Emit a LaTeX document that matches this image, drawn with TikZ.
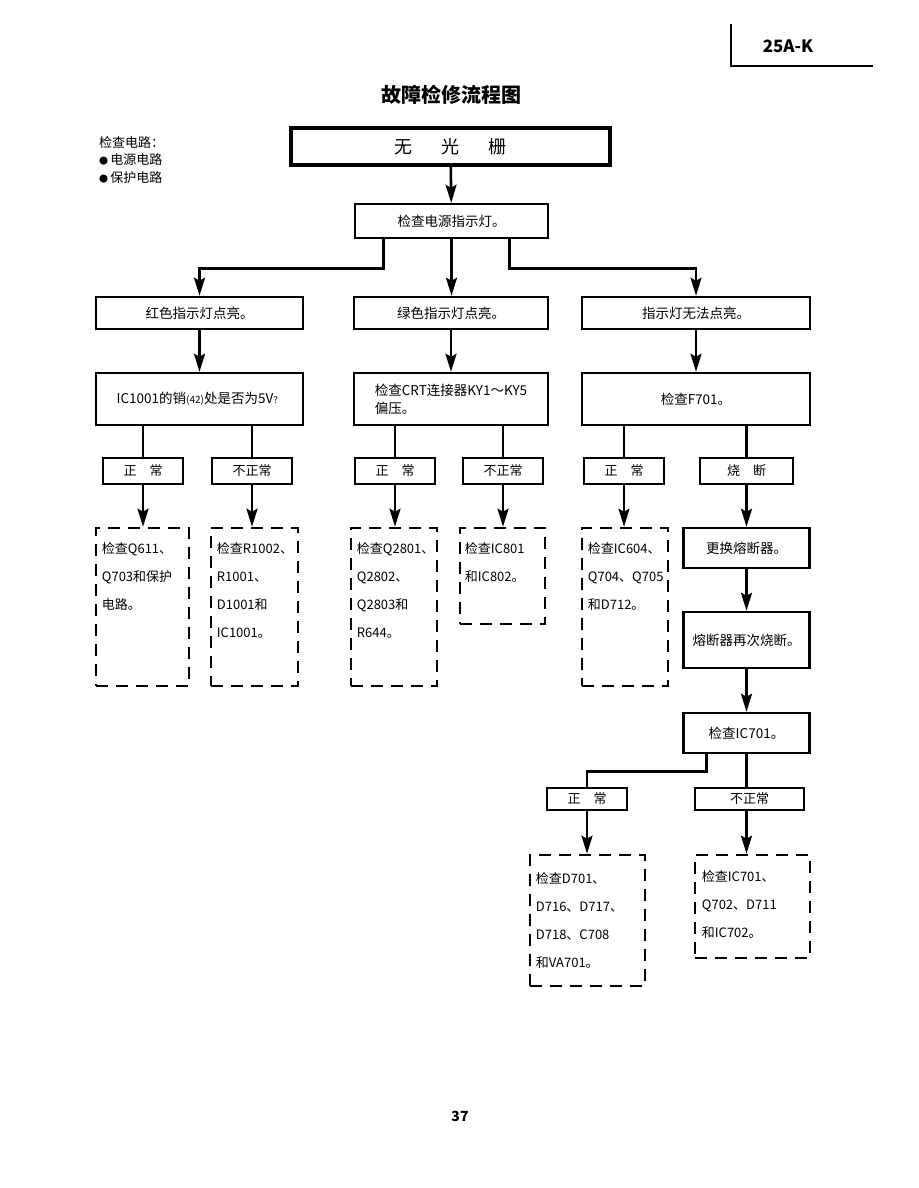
\documentclass[tikz,border=0pt]{standalone}
\usepackage{fontspec}
\setmainfont{Noto Sans CJK SC}
\usetikzlibrary{arrows.meta, positioning, calc}

\tikzset{
  box/.style={draw, line width=2.5pt, inner sep=2pt, font=\fontsize{13.5}{18}\selectfont},
  tag/.style={draw, line width=1.3pt, minimum width=80pt, minimum height=26pt, inner sep=0pt, font=\fontsize{13}{15}\selectfont},
  dashbox/.style={draw, line width=2.6pt, dash pattern=on 12pt off 8pt},
  note/.style={anchor=north west, inner sep=0pt, align=left, font=\fontsize{13}{28}\selectfont},
  arr/.style={line width=2.6pt, -{Stealth[length=18pt,width=11pt,inset=3pt]}},
  ln/.style={line width=2.6pt},
}

\begin{document}
\begin{tikzpicture}[x=1pt, y=-1pt]
\useasboundingbox (0,0) rectangle (918,1188);

% header and title
\draw[line width=1.4pt] (731,24) |- (873,66);
\node[font=\fontsize{17}{17}\selectfont\bfseries] (model) at (788,46) {25A-K};
\node[font=\fontsize{20}{20}\selectfont\bfseries] (title) at (451,95) {故障检修流程图};
\node[anchor=north west, align=left, inner sep=0pt, font=\fontsize{13}{17.5}\selectfont] (legend) at (99,136) {检查电路：\\{\fontsize{9}{9}\selectfont●}\,电源电路\\{\fontsize{9}{9}\selectfont●}\,保护电路};

% main column
\node[box, line width=4pt, minimum width=319pt, minimum height=37pt, font=\fontsize{18}{18}\selectfont] (noraster) at (450.5,146.5) {无\hspace{1.6em}光\hspace{1.6em}栅};
\node[box, minimum width=193pt, minimum height=34pt] (pwr) at (451.5,221) {检查电源指示灯。};

\node[box, minimum width=207pt, minimum height=32pt] (red) at (199.5,313) {红色指示灯点亮。};
\node[box, minimum width=194pt, minimum height=32pt] (green) at (451,313) {绿色指示灯点亮。};
\node[box, minimum width=228pt, minimum height=32pt] (nolight) at (696,313) {指示灯无法点亮。};

\node[box, minimum width=207pt, minimum height=52pt] (ic1001) at (199.5,399) {IC1001的销{\fontsize{10}{10}\selectfont(42)}处是否为5V{\fontsize{9}{9}\selectfont？}};
\node[box, minimum width=194pt, minimum height=52pt, align=left] (crt) at (451,399) {检查CRT连接器KY1～KY5\\偏压。};
\node[box, minimum width=228pt, minimum height=52pt] (f701) at (696,399) {检查F701。};

% yes / no tags
\node[tag] (okA) at (143,471) {正\hspace{1em}常};
\node[tag] (badA) at (252,471) {不正常};
\node[tag] (okB) at (395,471) {正\hspace{1em}常};
\node[tag] (badB) at (503,471) {不正常};
\node[tag] (okC) at (624,471) {正\hspace{1em}常};
\node[tag, minimum width=93pt] (blown) at (746.5,471) {烧\hspace{1em}断};

% dashed result boxes
\foreach \nm/\cx/\cy/\w/\h in {chkA/142.5/607/93/158, chkB/254.5/607/87/158,
    chkC/394/607/86/158, chkD/502.5/576/85/96, chkE/625/607/86/158,
    chkF/587.5/920.5/115/131, chkG/752.5/906.5/115/103}
  \node[dashbox, minimum width=\w pt, minimum height=\h pt] (\nm) at (\cx,\cy) {};

\node[note] (txtA) at ([shift={(7,16)}]chkA.north west) {检查Q611、\\Q703和保护\\电路。};
\node[note] (txtB) at ([shift={(7,16)}]chkB.north west) {检查R1002、\\R1001、\\D1001和\\IC1001。};
\node[note] (txtC) at ([shift={(7,16)}]chkC.north west) {检查Q2801、\\Q2802、\\Q2803和\\R644。};
\node[note] (txtD) at ([shift={(6,16)}]chkD.north west) {检查IC801\\和IC802。};
\node[note] (txtE) at ([shift={(7,16)}]chkE.north west) {检查IC604、\\Q704、Q705\\和D712。};
\node[note] (txtF) at ([shift={(7,19)}]chkF.north west) {检查D701、\\D716、D717、\\D718、C708\\和VA701。};
\node[note] (txtG) at ([shift={(8,17)}]chkG.north west) {检查IC701、\\Q702、D711\\和IC702。};

% fuse branch
\node[box, minimum width=126pt, minimum height=40pt] (fuse) at (746.5,548) {更换熔断器。};
\node[box, minimum width=126pt, minimum height=56pt] (again) at (746.5,640) {熔断器再次烧断。};
\node[box, minimum width=126pt, minimum height=40pt] (ic701) at (746.5,733) {检查IC701。};
\node[tag, minimum height=22pt] (okD) at (587,799) {正\hspace{1em}常};
\node[tag, minimum width=109pt, minimum height=22pt] (badD) at (749.5,799) {不正常};

% connectors
\draw[arr] (noraster) -- (pwr);
\draw[arr] ([xshift=-68pt]pwr.south) -- ++(0,29) -| (red.north);
\draw[arr] (pwr) -- (pwr |- green.north);
\draw[arr] ([xshift=58pt]pwr.south) -- ++(0,29) -| (nolight.north);
\draw[arr] (red) -- (red |- ic1001.north);
\draw[arr] (green) -- (ic1001.north -| green);
\draw[arr] (nolight) -- (nolight |- f701.north);

\foreach \up/\a/\b in {ic1001/okA/badA, crt/okB/badB, f701/okC/blown}{
  \draw[ln] (\up.south -| \a) -- (\a.north);
  \draw[ln] (\up.south -| \b) -- (\b.north);
}
\foreach \a/\b in {okA/chkA, badA/chkB, okB/chkC, badB/chkD, okC/chkE, blown/fuse}
  \draw[arr] (\a) -- (\a |- \b.north);

\draw[arr] (fuse) -- (again);
\draw[arr] (again) -- (ic701);
\draw[ln] ([xshift=-40pt]ic701.south) -- ++(0,17) -| (okD.north);
\draw[ln] (ic701.south) -- (ic701.south |- badD.north);
\draw[arr] (okD) -- (okD |- chkF.north);
\draw[arr] (badD.south -| ic701) -- (ic701 |- chkG.north);

\node[font=\fontsize{14}{14}\selectfont\bfseries] (page) at (460,1116) {37};
\end{tikzpicture}
\end{document}
